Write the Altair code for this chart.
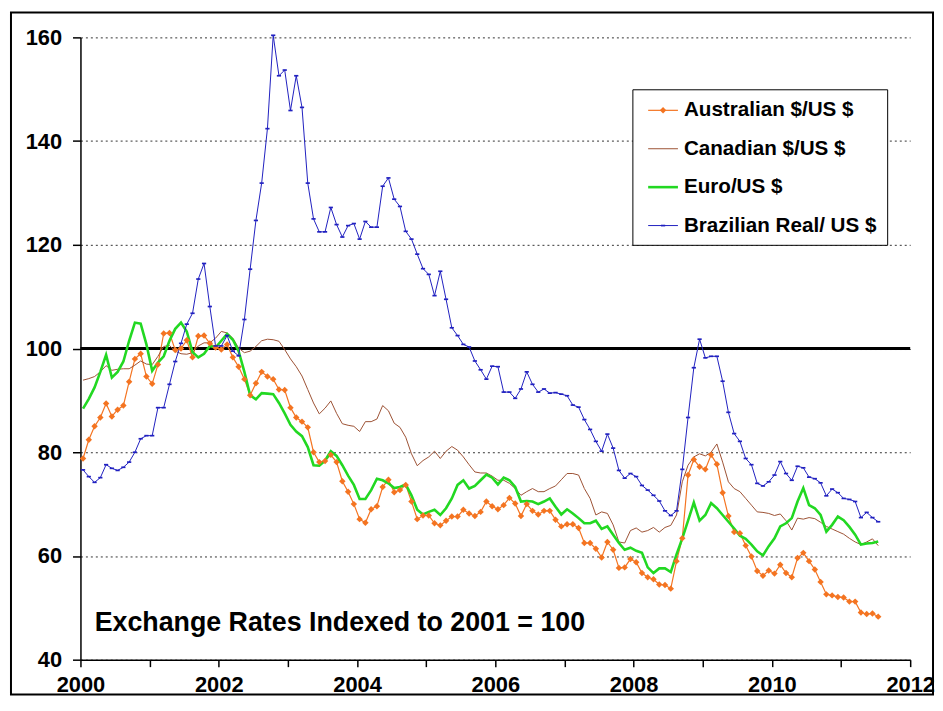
import altair as alt
import pandas as pd

series_names = ["Australian $/US $", "Canadian $/US $", "Euro/US $", "Brazilian Real/ US $"]
series_colors = ["#F47421", "#9C5234", "#22D822", "#2020C0"]
series_widths = [1.2, 1.0, 2.6, 1.0]

x_ticks = list(range(2000, 2013))
y_ticks = [40, 60, 80, 100, 120, 140, 160]

aud = [78.8, 82.4, 85.0, 86.7, 89.4, 86.9, 88.2, 89.0, 93.6, 98.0,
       99.0, 94.6, 93.2, 96.9, 102.9, 103.0, 99.7, 100.0, 101.6, 98.3,
       102.4, 102.5, 101.0, 100.2, 99.8, 100.8, 98.3, 96.5, 94.1, 91.0,
       93.3, 95.5, 94.6, 94.1, 92.1, 92.0, 88.6, 86.7, 85.9, 84.8,
       80.0, 78.1, 78.3, 79.5, 78.1, 74.4, 72.4, 70.0, 67.1, 66.4,
       69.0, 69.6, 73.3, 74.7, 72.3, 72.7, 73.7, 70.5, 67.1, 67.8,
       67.8, 66.3, 65.9, 66.8, 67.6, 67.6, 68.9, 68.2, 67.7, 68.5,
       70.5, 69.6, 69.0, 69.8, 71.2, 70.1, 67.7, 70.0, 68.7, 68.0,
       68.7, 68.7, 67.0, 65.7, 66.1, 66.1, 65.4, 62.5, 62.5, 61.4,
       59.7, 62.7, 61.2, 57.7, 57.8, 59.4, 58.8, 56.7, 55.9, 55.5,
       54.5, 54.4, 53.7, 59.0, 63.4, 75.6, 78.6, 77.2, 76.7, 79.5,
       77.7, 72.2, 67.7, 64.6, 64.4, 62.0, 59.9, 57.1, 56.2, 57.2,
       56.6, 58.3, 56.7, 55.9, 59.6, 60.6, 59.0, 57.4, 55.0, 52.6,
       52.4, 52.1, 52.0, 51.2, 51.2, 49.1, 48.8, 48.9, 48.3]

cad = [93.9, 94.2, 94.6, 95.5, 96.7, 95.8, 96.0, 96.1, 96.1, 96.8,
       97.6, 97.0, 96.9, 98.5, 100.4, 100.6, 99.5, 99.0, 98.9, 99.2,
       100.5, 101.1, 101.1, 102.0, 103.3, 103.0, 102.0, 100.1, 99.2, 99.5,
       100.4, 101.5, 101.8, 101.7, 101.4, 99.8, 98.0, 96.5, 94.7, 92.1,
       89.5, 87.4, 88.5, 89.9, 87.5, 85.5, 85.2, 85.0, 84.0, 85.9,
       85.9, 86.4, 89.0, 88.0, 85.6, 84.8, 82.9, 79.7, 77.4, 78.4,
       79.1, 80.2, 78.8, 80.2, 81.1, 80.4, 79.1, 77.6, 76.2, 76.0,
       76.0, 75.4, 74.6, 74.6, 74.0, 73.0, 71.7, 72.4, 73.0, 72.4,
       72.4, 73.0, 73.5, 74.7, 75.9, 75.9, 75.6, 73.0, 71.1, 67.9,
       68.5, 68.2, 66.0, 62.7, 62.5, 64.9, 65.4, 64.6, 64.9, 65.5,
       64.6, 65.5, 65.9, 67.9, 74.3, 77.5, 79.1, 79.7, 79.3, 80.0,
       81.6, 78.1, 74.3, 73.0, 72.4, 71.1, 69.8, 68.5, 68.4, 68.2,
       67.8, 68.1, 66.8, 65.0, 67.3, 67.1, 67.4, 67.2, 66.5, 65.7,
       65.2, 64.7, 64.2, 63.4, 62.7, 62.2, 62.7, 63.3, 62.0]

eur = [88.4, 90.3, 92.5, 95.5, 98.8, 94.4, 95.5, 97.5, 101.5, 105.0,
       104.8, 100.8, 95.7, 97.3, 98.5, 101.5, 103.8, 105.0, 103.3, 99.3,
       98.3, 99.0, 100.5, 100.2, 101.5, 102.8, 101.7, 99.5, 95.5, 91.0,
       90.2, 91.4, 91.3, 91.2, 89.5, 87.5, 85.3, 84.0, 83.1, 81.0,
       77.5, 77.4, 78.4, 80.2, 79.3, 77.5, 75.5, 73.7, 71.0, 71.0,
       72.7, 74.9, 74.6, 74.0, 73.1, 73.3, 73.8, 71.7, 68.9, 68.0,
       68.5, 68.9, 67.9, 69.2, 71.1, 73.7, 74.6, 73.0, 73.5, 74.6,
       75.7, 75.1, 73.8, 75.1, 74.6, 73.3, 70.5, 70.6, 70.5, 70.0,
       70.5, 71.1, 69.5, 68.0, 69.0, 68.2, 67.3, 66.3, 66.3, 66.8,
       65.2, 65.7, 64.1, 62.5, 61.2, 61.6, 61.0, 60.6, 57.8, 56.7,
       57.6, 57.6, 56.9, 60.3, 63.4, 66.8, 70.3, 66.8, 67.9, 70.2,
       69.2, 67.9, 66.6, 65.3, 63.9, 63.3, 62.2, 60.9, 60.1, 61.9,
       63.4, 65.7, 66.3, 67.3, 70.5, 73.1, 69.8, 69.2, 67.9, 64.7,
       66.0, 67.6, 66.9, 65.6, 64.1, 62.2, 62.4, 62.5, 62.8]

brl = [76.6, 75.3, 74.2, 75.1, 77.6, 76.9, 76.5, 77.1, 78.1, 80.0,
       82.6, 83.2, 83.2, 88.6, 88.6, 93.1, 97.5, 101.0, 104.7, 106.8,
       113.4, 116.4, 108.1, 100.5, 100.5, 102.5, 99.5, 98.6, 105.6, 115.3,
       124.7, 131.9, 142.4, 160.4, 152.6, 153.7, 145.9, 152.6, 146.5, 131.9,
       125.0, 122.5, 122.5, 127.2, 123.9, 121.5, 123.7, 124.1, 121.1, 124.5,
       123.4, 123.4, 131.3, 132.9, 128.8, 127.4, 122.6, 121.1, 118.2, 115.4,
       114.3, 110.2, 114.9, 109.5, 104.0, 102.5, 100.8, 100.3, 97.6, 95.9,
       94.1, 96.6, 96.5, 91.6, 91.6, 90.4, 92.2, 95.5, 93.1, 91.6,
       92.2, 91.4, 91.5, 91.2, 90.9, 89.1, 88.7, 86.3, 84.4, 82.1,
       80.2, 83.5, 80.8, 76.5, 75.0, 75.9, 75.3, 73.6, 72.7, 71.7,
       70.6, 68.7, 67.8, 68.7, 76.7, 86.7, 96.3, 101.8, 98.2, 98.5,
       98.5, 93.7, 87.7, 83.6, 82.1, 78.8, 77.6, 74.0, 73.5, 74.3,
       75.6, 78.2, 75.9, 74.6, 77.3, 77.0, 75.2, 74.9, 74.1, 71.6,
       72.9, 72.2, 71.1, 70.9, 70.5, 67.4, 68.4, 67.4, 66.6]

annotation = "Exchange Rates Indexed to 2001 = 100"

rows = []
for name, vals in zip(series_names, [aud, cad, eur, brl]):
    for i, v in enumerate(vals):
        rows.append({"t": 2000 + (i + 0.45) / 12.0, "value": v, "series": name, "idx": i})
df = pd.DataFrame(rows)

legend_df = pd.DataFrame({"series": series_names, "row": list(range(len(series_names)))})

FONT = "Liberation Sans"
W, H = 836, 627

color_scale = alt.Scale(domain=series_names, range=series_colors)
sw_scale = alt.Scale(type="ordinal", domain=series_names, range=series_widths)

x_enc = alt.X("t:Q", scale=alt.Scale(domain=[2000, 2012], nice=False, zero=False),
              axis=alt.Axis(values=x_ticks, format="d", title=None, grid=False,
                            labelExpr="datum.value % 2 == 0 ? datum.label : ''",
                            tickSize=7, labelPadding=8, labelFlush=False,
                            labelOverlap=False))
y_enc = alt.Y("value:Q", scale=alt.Scale(domain=[40, 160], nice=False, zero=False),
              axis=alt.Axis(values=y_ticks, format="d", title=None, grid=True,
                            gridDash=[2, 3], gridColor="#333333", gridWidth=1,
                            tickSize=8, labelPadding=11))

base = alt.Chart(df)

lines = base.mark_line().encode(
    x=x_enc, y=y_enc,
    color=alt.Color("series:N", scale=color_scale, legend=None),
    strokeWidth=alt.StrokeWidth("series:N", scale=sw_scale, legend=None),
    detail="series:N",
)

aud_pts = base.transform_filter(alt.datum.series == series_names[0]).mark_point(
    shape="diamond", filled=True, size=42, color=series_colors[0], opacity=1
).encode(x="t:Q", y="value:Q")

brl_pts = base.transform_filter(alt.datum.series == series_names[3]).mark_point(
    shape="M-1,-0.4L1,-0.4L1,0.4L-1,0.4Z", filled=True, size=18, color=series_colors[3], opacity=1
).encode(x="t:Q", y="value:Q")

one = pd.DataFrame({"k": [0]})

ref_line = alt.Chart(one).mark_rule(color="black", strokeWidth=3).encode(y=alt.datum(100))

frame = alt.Chart(one).mark_rect(fill=None, stroke="black", strokeWidth=2).encode(
    x=alt.value(-70), x2=alt.value(W + 23), y=alt.value(-25), y2=alt.value(H + 35)
)

note = alt.Chart(one).mark_text(
    text=annotation, font=FONT, fontWeight="bold", fontSize=27, align="left",
    baseline="alphabetic", color="black"
).encode(x=alt.datum(2000.205), y=alt.datum(45.6))

main = alt.layer(frame, ref_line, lines, aud_pts, brl_pts, note)

# legend (drawn from the series names through an ordinal row scale)
row_y = alt.Y("row:O", scale=alt.Scale(type="point", domain=[0, 1, 2, 3], range=[73.5, 189.6], padding=0),
              axis=None)

legend_box = alt.Chart(one).mark_rect(fill="white", stroke="black", strokeWidth=1).encode(
    x=alt.value(556.6), x2=alt.value(813.3), y=alt.value(52.8), y2=alt.value(209.5)
)
leg_lines = alt.Chart(legend_df).mark_rule().encode(
    x=alt.value(572), x2=alt.value(602), y=row_y,
    color=alt.Color("series:N", scale=color_scale, legend=None),
    strokeWidth=alt.StrokeWidth("series:N", scale=sw_scale, legend=None),
)
leg_dia = alt.Chart(legend_df).transform_filter(alt.datum.series == series_names[0]).mark_point(
    shape="diamond", filled=True, size=42, color=series_colors[0], opacity=1
).encode(x=alt.value(587), y=row_y)
leg_dash = alt.Chart(legend_df).transform_filter(alt.datum.series == series_names[3]).mark_point(
    shape="M-1,-0.4L1,-0.4L1,0.4L-1,0.4Z", filled=True, size=18, color=series_colors[3], opacity=1
).encode(x=alt.value(587), y=row_y)
leg_text = alt.Chart(legend_df).mark_text(
    align="left", baseline="middle", font=FONT, fontWeight="bold", fontSize=20.8, color="black"
).encode(x=alt.value(608), y=row_y, text="series:N")

legend_layer = alt.layer(legend_box, leg_lines, leg_dia, leg_dash, leg_text)

chart = alt.layer(main, legend_layer).resolve_scale(y="independent").properties(
    width=W, height=H, background="white",
    padding={"left": 73, "top": 27, "right": 25, "bottom": 36},
    autosize=alt.AutoSizeParams(type="none"),
).configure_view(stroke=None).configure_axis(
    labelFont=FONT, labelFontWeight="bold", labelFontSize=22, labelColor="black",
    domainColor="black", domainWidth=1.5, tickColor="black", tickWidth=1.5,
)

chart.save("out.html", embed_options={"renderer": "svg", "actions": False})
